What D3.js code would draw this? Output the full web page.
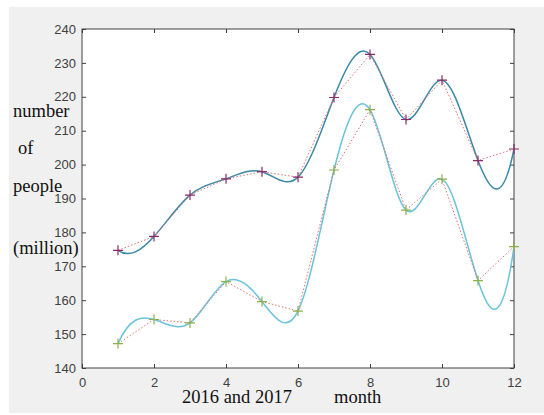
<!DOCTYPE html>
<html>
<head>
<meta charset="utf-8">
<script src="https://cdn.jsdelivr.net/npm/d3@7"></script>
<style>
  body { margin: 0; background: #fff; }
  svg { display: block; }
</style>
</head>
<body>
<svg id="chart"></svg>
<script>
const width = 544;
const height = 415;

// months 1..12, 2016 (upper) and 2017 (lower)
const months = [1, 2, 3, 4, 5, 6, 7, 8, 9, 10, 11, 12];
const series2016 = [174.7, 178.8, 191, 195.8, 197.9, 196.3, 219.8, 232.5, 213.3, 224.9, 201.2, 204.6];
const series2017 = [147.2, 154.3, 153.3, 165.5, 159.6, 156.8, 198.4, 216.2, 186.6, 195.7, 165.8, 175.8];
const xTicks = [0, 2, 4, 6, 8, 10, 12];
const yTicks = [140, 150, 160, 170, 180, 190, 200, 210, 220, 230, 240];

const svg = d3.select("#chart")
  .attr("width", width)
  .attr("height", height);

// figure background (MATLAB grey)
svg.append("rect")
  .attr("x", 9).attr("y", 7)
  .attr("width", width - 9).attr("height", 406)
  .attr("fill", "#f0f0f0");

const plot = { left: 82, top: 29, right: 514, bottom: 368 };

svg.append("rect")
  .attr("x", plot.left).attr("y", plot.top)
  .attr("width", plot.right - plot.left)
  .attr("height", plot.bottom - plot.top)
  .attr("fill", "#fff");

const x = d3.scaleLinear().domain([0, 12]).range([plot.left, plot.right]);
const y = d3.scaleLinear().domain([140, 240]).range([plot.bottom, plot.top]);

const axisColor = "#404040";

// axes with inward ticks on all four sides
function styleAxis(g) {
  g.select(".domain").remove();
  g.selectAll("line").attr("stroke", axisColor);
  g.selectAll("text")
    .attr("fill", axisColor)
    .attr("font-family", "Liberation Sans, Arial, sans-serif")
    .attr("font-size", 13);
}

svg.append("g")
  .attr("transform", `translate(0,${plot.bottom})`)
  .call(d3.axisBottom(x).tickValues(xTicks).tickSizeInner(-4).tickSizeOuter(0).tickPadding(10))
  .call(styleAxis);

svg.append("g")
  .attr("transform", `translate(0,${plot.top})`)
  .call(d3.axisTop(x).tickValues(xTicks).tickSizeInner(-4).tickSizeOuter(0).tickFormat(""))
  .call(styleAxis);

svg.append("g")
  .attr("transform", `translate(${plot.left},0)`)
  .call(d3.axisLeft(y).tickValues(yTicks).tickSizeInner(-4).tickSizeOuter(0).tickPadding(6))
  .call(styleAxis);

svg.append("g")
  .attr("transform", `translate(${plot.right},0)`)
  .call(d3.axisRight(y).tickValues(yTicks).tickSizeInner(-4).tickSizeOuter(0).tickFormat(""))
  .call(styleAxis);

// box
svg.append("rect")
  .attr("x", plot.left).attr("y", plot.top)
  .attr("width", plot.right - plot.left)
  .attr("height", plot.bottom - plot.top)
  .attr("fill", "none")
  .attr("stroke", axisColor)
  .attr("stroke-width", 1);

// not-a-knot cubic spline (like matlab's spline()), as a d3 curve
function notAKnotCoords(v) {
  const n = v.length;
  // solve for second derivatives M, unit spacing
  const A = [], b = [];
  for (let i = 0; i < n; i++) { A.push(new Array(n).fill(0)); b.push(0); }
  A[0][0] = 1; A[0][1] = -2; A[0][2] = 1;
  for (let i = 1; i < n - 1; i++) {
    A[i][i - 1] = 1; A[i][i] = 4; A[i][i + 1] = 1;
    b[i] = 6 * (v[i + 1] - 2 * v[i] + v[i - 1]);
  }
  A[n - 1][n - 3] = 1; A[n - 1][n - 2] = -2; A[n - 1][n - 1] = 1;
  // gaussian elimination with pivoting
  for (let c = 0; c < n; c++) {
    let p = c;
    for (let r = c + 1; r < n; r++) if (Math.abs(A[r][c]) > Math.abs(A[p][c])) p = r;
    [A[c], A[p]] = [A[p], A[c]]; [b[c], b[p]] = [b[p], b[c]];
    for (let r = c + 1; r < n; r++) {
      const f = A[r][c] / A[c][c];
      for (let k = c; k < n; k++) A[r][k] -= f * A[c][k];
      b[r] -= f * b[c];
    }
  }
  const M = new Array(n).fill(0);
  for (let r = n - 1; r >= 0; r--) {
    let s = b[r];
    for (let k = r + 1; k < n; k++) s -= A[r][k] * M[k];
    M[r] = s / A[r][r];
  }
  const c1 = [], c2 = [];
  for (let i = 0; i < n - 1; i++) {
    const d = v[i + 1] - v[i];
    const d0 = d - (2 * M[i] + M[i + 1]) / 6;
    const d1 = d + (M[i] + 2 * M[i + 1]) / 6;
    c1.push(v[i] + d0 / 3);
    c2.push(v[i + 1] - d1 / 3);
  }
  return [c1, c2];
}

function curveNotAKnot(context) {
  return {
    areaStart() {}, areaEnd() {},
    lineStart() { this._x = []; this._y = []; },
    point(px, py) { this._x.push(+px); this._y.push(+py); },
    lineEnd() {
      const xs = this._x, ys = this._y, n = xs.length;
      if (!n) return;
      context.moveTo(xs[0], ys[0]);
      if (n < 4) { for (let i = 1; i < n; i++) context.lineTo(xs[i], ys[i]); return; }
      const [x1, x2] = notAKnotCoords(xs), [y1, y2] = notAKnotCoords(ys);
      for (let i = 0; i < n - 1; i++) {
        context.bezierCurveTo(x1[i], y1[i], x2[i], y2[i], xs[i + 1], ys[i + 1]);
      }
    }
  };
}

const lines = [
  { values: series2016, curve: "#3a88a6", marker: "#8a2c68" },
  { values: series2017, curve: "#6ac3da", marker: "#8cb04c" }
];

const spline = d3.line()
  .x((d, i) => x(months[i]))
  .y(d => y(d))
  .curve(curveNotAKnot);

const straight = d3.line()
  .x((d, i) => x(months[i]))
  .y(d => y(d));

lines.forEach(s => {
  svg.append("path")
    .attr("d", spline(s.values))
    .attr("fill", "none")
    .attr("stroke", s.curve)
    .attr("stroke-width", 1.5);

  svg.append("path")
    .attr("d", straight(s.values))
    .attr("fill", "none")
    .attr("stroke", "#e07070")
    .attr("stroke-width", 1)
    .attr("stroke-dasharray", "1.5,2");

  svg.append("g")
    .selectAll("path")
    .data(s.values)
    .enter()
    .append("path")
    .attr("d", (d, i) => {
      const cx = x(months[i]), cy = y(d), r = 5;
      return `M${cx - r},${cy}H${cx + r}M${cx},${cy - r}V${cy + r}`;
    })
    .attr("stroke", s.marker)
    .attr("stroke-width", 1.2);
});

// serif labels pasted on the figure
const serif = "Liberation Serif, Times New Roman, serif";
const labels = [
  { text: "number", x: 13, y: 117 },
  { text: "of", x: 18, y: 154 },
  { text: "people", x: 13, y: 192 },
  { text: "(million)", x: 13, y: 254 },
  { text: "2016 and 2017", x: 182, y: 403 },
  { text: "month", x: 334, y: 403 }
];

svg.append("g")
  .selectAll("text")
  .data(labels)
  .enter()
  .append("text")
  .attr("x", d => d.x)
  .attr("y", d => d.y)
  .attr("font-family", serif)
  .attr("font-size", 18.5)
  .attr("fill", "#111")
  .text(d => d.text);
</script>
</body>
</html>
